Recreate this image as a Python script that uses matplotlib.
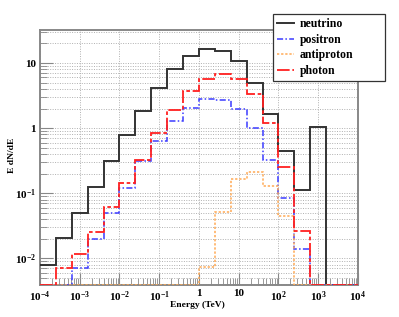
import matplotlib
matplotlib.use("Agg")
import matplotlib.pyplot as plt
import numpy as np

plt.rcParams["font.family"] = "Liberation Serif"
plt.rcParams["font.weight"] = "bold"
plt.rcParams["mathtext.fontset"] = "custom"
plt.rcParams["mathtext.rm"] = "Liberation Serif:bold"
plt.rcParams["mathtext.it"] = "Liberation Serif:bold"
plt.rcParams["mathtext.bf"] = "Liberation Serif:bold"

# log10(E/TeV) bin edges, 0.4 decade bins
log_edges = [-4.0, -3.6, -3.2, -2.8, -2.4, -2.0, -1.6, -1.2, -0.8, -0.4, 0.0,
             0.4, 0.8, 1.2, 1.6, 2.0, 2.4, 2.8, 3.2, 3.6, 4.0]

neutrino   = [0.0079, 0.0204, 0.049, 0.124, 0.31, 0.79, 1.85, 4.06, 8.1, 12.7,
              16.4, 15.1, 10.6, 4.9, 1.66, 0.45, 0.113, 1.04, 0, 0]
positron   = [0, 0, 0.0070, 0.0195, 0.050, 0.119, 0.31, 0.645, 1.29, 2.07,
              2.8, 2.7, 1.96, 1.02, 0.32, 0.086, 0.0139, 0, 0, 0]
antiproton = [0, 0, 0, 0, 0, 0, 0, 0, 0, 0,
              0.0073, 0.052, 0.166, 0.21, 0.13, 0.045, 0, 0, 0, 0]
photon     = [0, 0.0070, 0.0116, 0.0257, 0.061, 0.143, 0.32, 0.84, 1.91, 3.66,
              5.7, 6.8, 5.7, 3.3, 1.22, 0.25, 0.0266, 0, 0, 0]

x_ticks = [1e-4, 1e-3, 1e-2, 1e-1, 1, 10, 1e2, 1e3, 1e4]
x_tick_labels = [r"$10^{-4}$", r"$10^{-3}$", r"$10^{-2}$", r"$10^{-1}$", "1", "10",
                 r"$10^{2}$", r"$10^{3}$", r"$10^{4}$"]
y_ticks = [1e-2, 1e-1, 1, 10]
y_tick_labels = [r"$10^{-2}$", r"$10^{-1}$", "1", "10"]

YMIN, YMAX = 0.0039, 32.0
FRAME = "#888888"

series = [
    ("neutrino",   neutrino,   "#333333", "-",                 1.4),
    ("positron",   positron,   "#3b3bff", (0, (4, 1.5, 1, 1.5)), 1.1),
    ("antiproton", antiproton, "#ffaa55", (0, (1.5, 1.2)),      1.1),
    ("photon",     photon,     "#ff2020", (0, (7, 1.5, 2, 1.5)), 1.3),
]

fig = plt.figure(figsize=(3.99, 3.17), dpi=100, facecolor="white")
ax = fig.add_axes([0.1003, 0.101, 0.7967, 0.804])
edges = 10 ** np.array(log_edges)

for name, vals, color, ls, lw in series:
    v = np.clip(np.array(vals, dtype=float), YMIN, None)
    ax.stairs(v, edges, baseline=None, color=color, linestyle=ls,
              linewidth=lw, label=name, zorder=3)

ax.set_xscale("log")
ax.set_yscale("log")
ax.set_xlim(1e-4, 1e4)
ax.set_ylim(YMIN, YMAX)

ax.set_xticks(x_ticks)
ax.set_xticklabels(x_tick_labels)
ax.set_yticks(y_ticks)
ax.set_yticklabels(y_tick_labels)
ax.xaxis.set_minor_locator(matplotlib.ticker.LogLocator(base=10, subs=np.arange(2, 10), numticks=20))
ax.yaxis.set_minor_locator(matplotlib.ticker.LogLocator(base=10, subs=np.arange(2, 10), numticks=20))
ax.xaxis.set_minor_formatter(matplotlib.ticker.NullFormatter())
ax.yaxis.set_minor_formatter(matplotlib.ticker.NullFormatter())

ax.tick_params(which="both", direction="in", top=False, right=False,
               labelsize=8, color=FRAME, pad=3)
ax.tick_params(which="major", length=9, width=0.8)
ax.tick_params(which="minor", length=5, width=0.6)

ax.grid(True, which="major", axis="both", color="#b0b0b0", linestyle=(0, (1, 1.5)), linewidth=0.7)
ax.grid(True, which="minor", axis="y", color="#b0b0b0", linestyle=(0, (1, 1.5)), linewidth=0.7)
ax.set_axisbelow(True)

for sp in ax.spines.values():
    sp.set_color(FRAME)
    sp.set_linewidth(1.4)

fig.text(0.494, 0.038, "Energy (TeV)", ha="center", va="center", fontsize=6.8, fontweight="bold")
fig.text(0.029, 0.51, "E dN/dE", ha="center", va="center", rotation=90, fontsize=6.8, fontweight="bold")

leg = ax.legend(loc="upper left", bbox_to_anchor=(0.683, 0.756, 0.282, 0.199),
                bbox_transform=fig.transFigure, mode="expand", fontsize=8.5,
                frameon=True, fancybox=False, framealpha=1, edgecolor="#333333",
                handlelength=1.5, handletextpad=0.45, borderaxespad=0,
                labelspacing=0.3, borderpad=0.35)
leg.get_frame().set_linewidth(0.9)

fig.savefig("out.png", dpi=100, facecolor="white")
